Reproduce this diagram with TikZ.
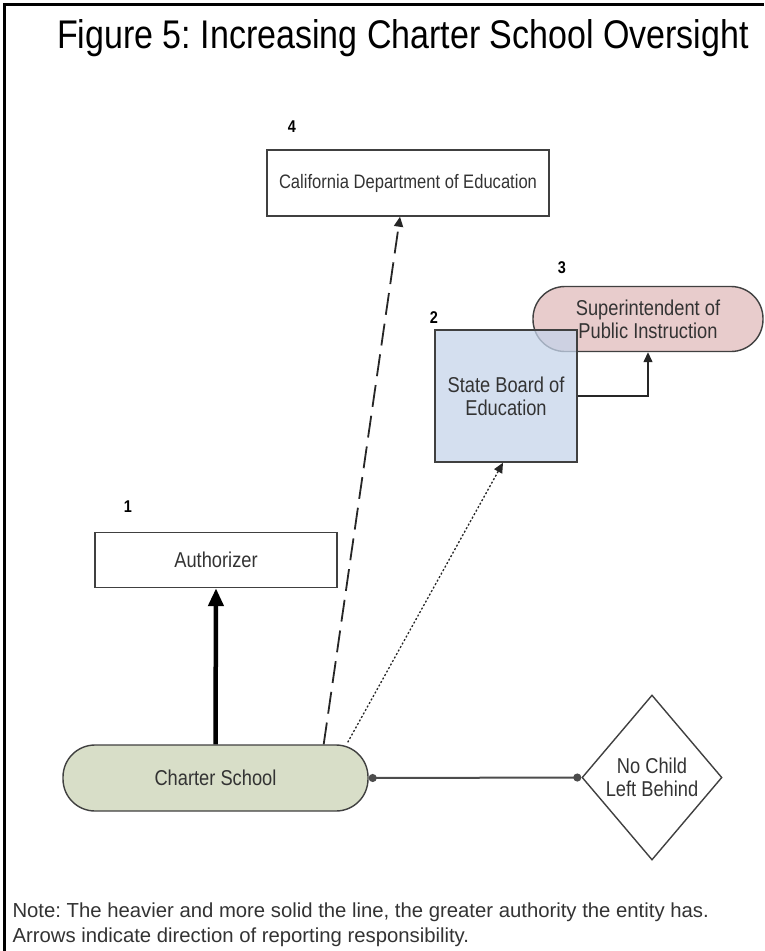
\documentclass[tikz,border=0pt]{standalone}
\usepackage{fontspec}
\setmainfont{Liberation Sans}
\newfontfamily\diagfont{Liberation Sans}[FakeStretch=0.85]
\usepackage{tikz}
\usetikzlibrary{arrows.meta,shapes.geometric}
\frenchspacing

\definecolor{pinkfill}{RGB}{232,204,204}
\definecolor{bluefill}{RGB}{197,212,234}
\definecolor{sagefill}{RGB}{216,222,200}

\begin{document}
\begin{tikzpicture}[
        x=1pt,
        y=-1pt,
        font=\diagfont\fontsize{21.5}{23}\selectfont,
        text=black!80,
        entity/.style={draw=black!75, line width=1.4pt, align=center, inner sep=0pt},
        pill/.style={entity, rounded corners=32pt},
        num/.style={font=\diagfont\fontsize{17}{17}\selectfont\bfseries, text=black},
        report/.style={draw=black!85, line width=1.3pt, -{Triangle[length=10pt,width=9pt]}},
        strong/.style={draw=black, line width=4.5pt, -{Triangle[length=18pt,width=15pt]}},
        loose/.style={report, line width=1.8pt, dash pattern=on 22pt off 9pt},
        weak/.style={report, dash pattern=on 2pt off 2pt},
        tie/.style={draw=black!70, line width=2pt, {Circle[length=8pt]}-{Circle[length=8pt]}}
    ]
        \useasboundingbox (0,0) rectangle (764,951);

        % frame
        \draw[line width=3pt] (4,951) -- (4,4) -- (764,4);

        \node[font=\diagfont\fontsize{40}{44}\selectfont, text=black] (title) at (403,38)
            {Figure 5: Increasing Charter School Oversight};

        % entities
        \node[entity, minimum width=282, minimum height=66,
            font=\diagfont\fontsize{19.5}{22}\selectfont] (cde) at (408,183) {California Department of Education};
        \node[pill, fill=pinkfill, minimum width=230, minimum height=65] (super) at (648,319)
            {Superintendent of\\Public Instruction};
        \node[entity, fill=bluefill, fill opacity=0.75, text opacity=1,
            minimum width=142, minimum height=132] (sbe) at (506,396) {State Board of\\Education};
        \node[entity, minimum width=242, minimum height=55] (auth) at (216,560) {Authorizer};
        \node[pill, fill=sagefill, minimum width=305, minimum height=66] (charter) at (215.5,778) {Charter School};
        \node[entity, diamond, minimum width=140, minimum height=165] (nclb) at (652,777.5)
            {No Child\\Left Behind};

        % ranks
        \node[num] (n4) at (292,127) {4};
        \node[num] (n3) at (562,268) {3};
        \node[num] (n2) at (434,318) {2};
        \node[num] (n1) at (128,507) {1};

        % reporting lines
        \draw[strong] (charter.north) -- (auth.south);
        \draw[loose] ([xshift=-45pt]charter.north east) -- ([xshift=-8pt]cde.south);
        \draw[weak] ([xshift=-21pt,yshift=2pt]charter.north east) -- ([xshift=-3pt]sbe.south);
        \draw[report] (sbe.east) -| (super.south);
        \draw[tie] (charter.east) -- (nclb.west);

        \node[anchor=north west, align=left, font=\fontsize{20.3}{25}\selectfont, text=black!80] (note) at (9,899)
            {Note: The heavier and more solid the line, the greater authority the entity has.\\
             Arrows indicate direction of reporting responsibility.};
    \end{tikzpicture}
\end{document}
